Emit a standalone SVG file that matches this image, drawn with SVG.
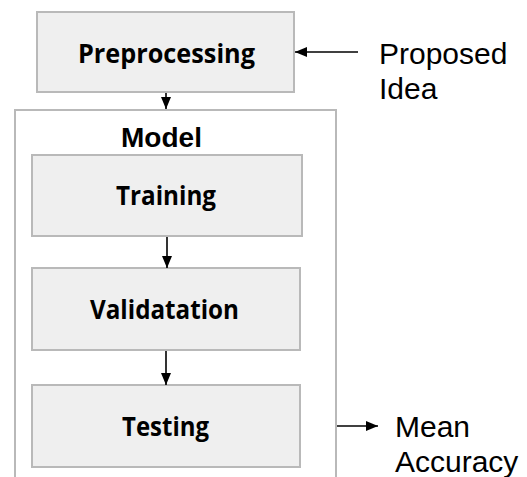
<svg xmlns="http://www.w3.org/2000/svg" width="527" height="477" viewBox="0 0 527 477">
<style>
.box{fill:#efefef;stroke:#b9b9b9;stroke-width:2}
.frame{fill:#ffffff;stroke:#b9b9b9;stroke-width:2}
.lbl{font-family:"Open Sans","DejaVu Sans",sans-serif;font-weight:700;font-size:27px;fill:#000;text-anchor:middle}
.title{font-family:"Liberation Sans",Arial,sans-serif;font-weight:700;font-size:28px;fill:#000;text-anchor:middle}
.note{font-family:"Liberation Sans",Arial,sans-serif;font-size:30px;fill:#000}
.conn{stroke:#000;stroke-width:1.6;fill:none}
</style>
<defs>
<marker id="ah" viewBox="0 0 12 10" refX="12" refY="5" markerWidth="12" markerHeight="10" markerUnits="userSpaceOnUse" orient="auto">
<path d="M0,0 L12,5 L0,10 z" fill="#000"/>
</marker>
</defs>
<rect width="527" height="477" fill="#fff"/>
<g id="model">
<rect class="frame" x="15" y="110" width="321" height="380"/>
<text class="title" x="161.5" y="147">Model</text>
</g>
<g id="preprocessing">
<rect class="box" x="37" y="12" width="257" height="80"/>
<text class="lbl" x="166.5" y="63" textLength="177" lengthAdjust="spacingAndGlyphs">Preprocessing</text>
</g>
<g id="training">
<rect class="box" x="32" y="155" width="270" height="81"/>
<text class="lbl" x="166" y="205" textLength="100" lengthAdjust="spacingAndGlyphs">Training</text>
</g>
<g id="validatation">
<rect class="box" x="32" y="268" width="268" height="82"/>
<text class="lbl" x="164.5" y="319" textLength="149" lengthAdjust="spacingAndGlyphs">Validatation</text>
</g>
<g id="testing">
<rect class="box" x="32" y="385" width="268" height="82"/>
<text class="lbl" x="165.5" y="436" textLength="87" lengthAdjust="spacingAndGlyphs">Testing</text>
</g>
<g id="proposed-idea">
<text class="note" x="379" y="64">Proposed</text>
<text class="note" x="379" y="99">Idea</text>
</g>
<g id="mean-accuracy">
<text class="note" x="395" y="437">Mean</text>
<text class="note" x="395" y="472">Accuracy</text>
</g>
<g id="connectors">
<line class="conn" x1="166" y1="93" x2="166" y2="109" marker-end="url(#ah)"/>
<line class="conn" x1="167" y1="237" x2="167" y2="268" marker-end="url(#ah)"/>
<line class="conn" x1="166" y1="351" x2="166" y2="385" marker-end="url(#ah)"/>
<line class="conn" x1="358" y1="52" x2="295" y2="52" marker-end="url(#ah)"/>
<line class="conn" x1="337" y1="426" x2="378" y2="426" marker-end="url(#ah)"/>
</g>
</svg>
